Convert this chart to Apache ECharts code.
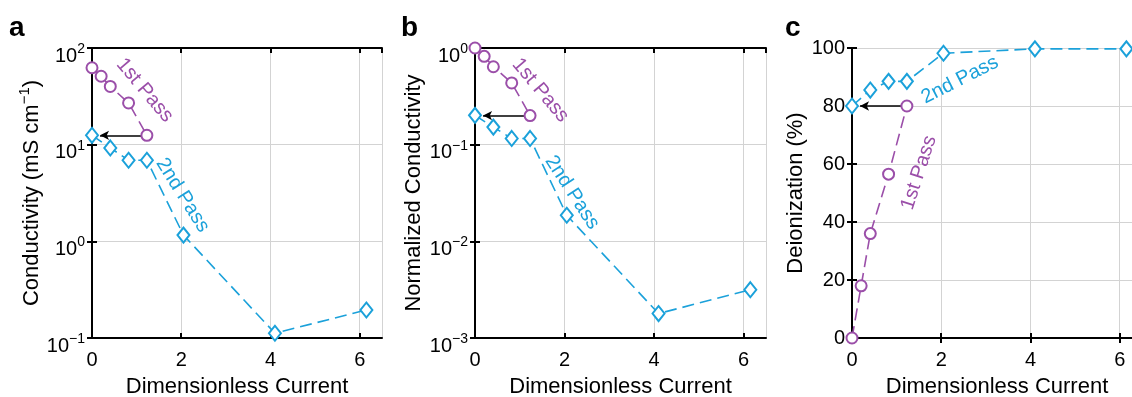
<!DOCTYPE html>
<html><head><meta charset="utf-8">
<script src="https://cdn.jsdelivr.net/npm/echarts@6/dist/echarts.min.js"></script>
<style>html,body{margin:0;padding:0;background:#fff}#c{width:1132px;height:397px}</style>
</head><body><div id="c"></div>
<script>
// ---------- data ----------
const xTicks = [0, 2, 4, 6];
const pass1X = [0, 0.205, 0.41, 0.82, 1.23];
const pass2X = [0, 0.41, 0.82, 1.23, 2.05, 4.1, 6.15];
const condPass1 = [62.5, 51, 40, 27, 12.5];
const condPass2 = [12.5, 9.25, 6.9, 6.9, 1.16, 0.112, 0.195];
const normPass1 = [1.0, 0.82, 0.64, 0.435, 0.2];
const normPass2 = [0.201, 0.152, 0.116, 0.116, 0.0186, 0.00179, 0.00316];
const deionPass1 = [0, 18, 36, 56.5, 80];
const deionPass2 = [80, 85.5, 88.5, 88.5, 98.2, 99.7, 99.7];
const arrowX = [1.11, 0.18];
const panelLetters = ['a', 'b', 'c'];
const xName = 'Dimensionless Current';

const PURPLE = '#9b4fa9';
const BLUE = '#1ba1da';
const FONT = '"Liberation Sans", Arial, Helvetica, sans-serif';
const FS = 20;
const NFS = 22;

const zip = (xs, ys) => xs.map((x, i) => [x, ys[i]]);
const expLabel = v => {
  const e = Math.round(Math.log10(v));
  return '{b|10}{s|' + (e < 0 ? '\u2212' + (-e) : String(e)) + '}';
};
const richLab = {
  b: { fontSize: FS, fontFamily: FONT, color: '#000', verticalAlign: 'bottom', lineHeight: 24 },
  s: { fontSize: 14, fontFamily: FONT, color: '#000', verticalAlign: 'top', lineHeight: 14 }
};

const grids = [
  { left: 92, top: 48, width: 290, height: 290, outerBoundsMode: 'none', containLabel: false },
  { left: 475, top: 48, width: 291, height: 290, outerBoundsMode: 'none', containLabel: false },
  { left: 852, top: 48, width: 290, height: 290, outerBoundsMode: 'none', containLabel: false }
];

const panels = [
  { type: 'log', min: 0.1, max: 100, p1: condPass1, p2: condPass2,
    name: '{n|Conductivity (mS cm}{s|\u22121}{n|)}', gap: 49,
    l1: { x: 1.18, y: 36.5, rot: -50 }, l2: { x: 2.03, y: 3.0, rot: -58 } },
  { type: 'log', min: 0.001, max: 1, p1: normPass1, p2: normPass2,
    name: '{n|Normalized Conductivity}', gap: 50,
    l1: { x: 1.46, y: 0.365, rot: -50 }, l2: { x: 2.17, y: 0.032, rot: -57 } },
  { type: 'value', min: 0, max: 100, interval: 20, p1: deionPass1, p2: deionPass2,
    name: '{n|Deionization (%)}', gap: 45,
    l1: { x: 1.5, y: 57, rot: 72 }, l2: { x: 2.42, y: 89, rot: 27 } }
];

const xAxis = [], yAxis = [], series = [];
const axisLineStyle = { color: '#000', width: 2 };
const tick = { show: true, inside: true, length: 5, lineStyle: { color: '#000', width: 2 } };
const split = { show: true, lineStyle: { color: '#d3d3d3', width: 1 } };

panels.forEach((p, i) => {
  const xi = xAxis.length, yi = yAxis.length;
  xAxis.push({
    type: 'value', gridIndex: i, min: 0, max: 6.5, interval: 2, position: 'bottom',
    axisLine: { show: true, lineStyle: axisLineStyle }, axisTick: tick, splitLine: split,
    axisLabel: { show: true, margin: 12, fontSize: FS, fontFamily: FONT, color: '#000', showMaxLabel: false,
      formatter: v => (xTicks.includes(v) ? String(v) : '') },
    name: xName, nameLocation: 'middle', nameGap: 38,
    nameTextStyle: { fontSize: NFS, fontFamily: FONT, color: '#000' }
  });
  xAxis.push({
    type: 'value', gridIndex: i, min: 0, max: 6.5, interval: 2, position: 'top',
    axisLine: { show: true, lineStyle: axisLineStyle }, axisTick: tick, splitLine: { show: false },
    axisLabel: { show: false }
  });
  const yBase = {
    type: p.type, gridIndex: i, min: p.min, max: p.max
  };
  if (p.interval) yBase.interval = p.interval;
  yAxis.push(Object.assign({}, yBase, {
    position: 'left',
    axisLine: { show: true, lineStyle: axisLineStyle }, axisTick: tick, splitLine: split,
    minorTick: { show: false }, minorSplitLine: { show: false },
    axisLabel: p.type === 'log'
      ? { margin: 7, formatter: expLabel, rich: richLab, padding: [12, 0, 0, 0] }
      : { margin: 7, fontSize: FS, fontFamily: FONT, color: '#000' },
    name: p.name, nameLocation: 'middle', nameGap: p.gap, nameRotate: 90,
    nameTextStyle: { rich: {
      n: { fontSize: NFS, fontFamily: FONT, color: '#000', verticalAlign: 'bottom', lineHeight: 26 },
      s: { fontSize: 15, fontFamily: FONT, color: '#000', verticalAlign: 'top', lineHeight: 15 } } }
  }));
  yAxis.push(Object.assign({}, yBase, {
    position: 'right',
    axisLine: { show: true, lineStyle: axisLineStyle }, axisTick: tick, splitLine: { show: false },
    minorTick: { show: false }, axisLabel: { show: false }
  }));

  const last1 = p.p1[p.p1.length - 1];
  series.push({
    type: 'line', xAxisIndex: xi, yAxisIndex: yi, data: zip(pass1X, p.p1),
    symbol: 'emptyCircle', symbolSize: 11, z: 5,
    itemStyle: { color: PURPLE, borderWidth: 1.6 },
    lineStyle: { color: PURPLE, width: 1.6, type: [12, 6] },
    markLine: {
      silent: true, symbol: ['none', 'arrow'], symbolSize: [7, 9], animation: false,
      lineStyle: { color: '#000', width: 1.6, type: 'solid' }, label: { show: false },
      data: [[{ coord: [arrowX[0], last1] }, { coord: [arrowX[1], last1] }]]
    },
    markPoint: {
      silent: true, symbol: 'circle', symbolSize: 0, animation: false,
      label: { show: true, position: 'inside', formatter: '1st Pass', rotate: p.l1.rot,
        color: PURPLE, fontSize: FS, fontFamily: FONT },
      data: [{ coord: [p.l1.x, p.l1.y] }]
    }
  });
  series.push({
    type: 'line', xAxisIndex: xi, yAxisIndex: yi, data: zip(pass2X, p.p2),
    symbol: 'emptyDiamond', symbolSize: [12, 15], z: 5,
    itemStyle: { color: BLUE, borderWidth: 1.6 },
    lineStyle: { color: BLUE, width: 1.6, type: [12, 6] },
    markPoint: {
      silent: true, symbol: 'circle', symbolSize: 0, animation: false,
      label: { show: true, position: 'inside', formatter: '2nd Pass', rotate: p.l2.rot,
        color: BLUE, fontSize: FS, fontFamily: FONT },
      data: [{ coord: [p.l2.x, p.l2.y] }]
    }
  });
});

const letterPos = [[9, 14], [401, 14], [785, 14]];
const graphic = panelLetters.map((t, i) => ({
  type: 'text', left: letterPos[i][0], top: letterPos[i][1],
  style: { text: t, font: 'bold 28px ' + FONT, fill: '#000' }
}));

const chart = echarts.init(document.getElementById('c'), null, { renderer: 'canvas' });
chart.setOption({
  animation: false, backgroundColor: '#fff',
  grid: grids, xAxis, yAxis, series, graphic
});
</script></body></html>
